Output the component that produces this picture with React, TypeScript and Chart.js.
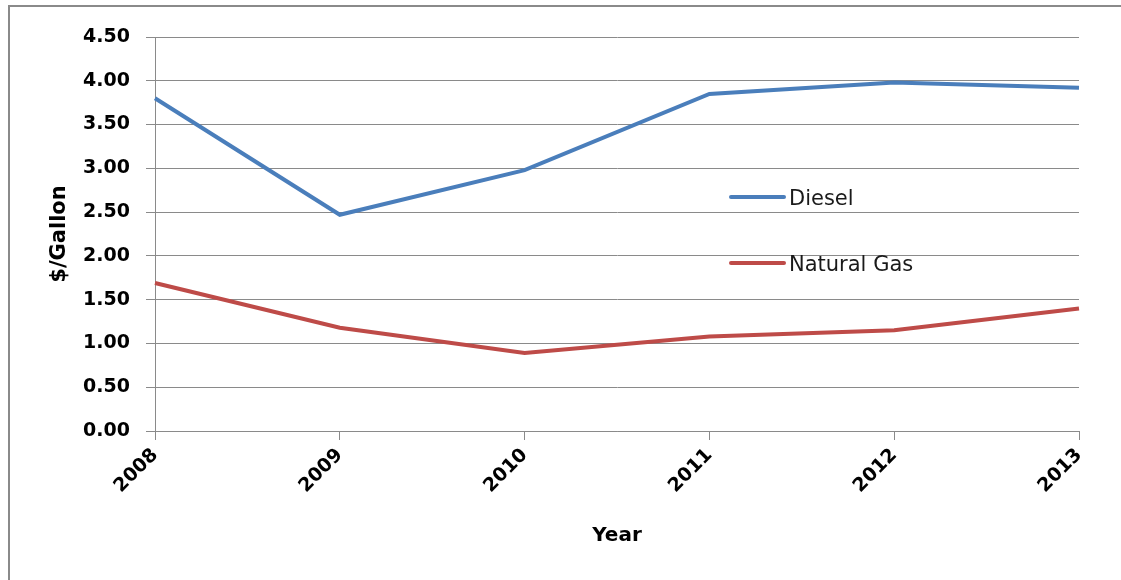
import React, { useEffect, useRef } from "react";
import { Chart, registerables } from "chart.js";

Chart.register(...registerables);

const years = ["2008", "2009", "2010", "2011", "2012", "2013"];
const diesel = [3.8, 2.47, 2.98, 3.85, 3.98, 3.92];
const naturalGas = [1.69, 1.18, 0.89, 1.08, 1.15, 1.4];
const seriesNames = ["Diesel", "Natural Gas"];
const seriesColors = ["#4A7EBB", "#BE4B48"];
const yAxisTitle = "$/Gallon";
const xAxisTitle = "Year";

const W = 1121;
const H = 580;

const framePlugin = {
  id: "frame",
  beforeDraw(chart: any) {
    const ctx = chart.ctx;
    ctx.save();
    ctx.fillStyle = "#ffffff";
    ctx.fillRect(0, 0, chart.width, chart.height);
    ctx.strokeStyle = "#8a8a8a";
    ctx.lineWidth = 2;
    ctx.beginPath();
    ctx.moveTo(9, chart.height);
    ctx.lineTo(9, 6);
    ctx.lineTo(chart.width, 6);
    ctx.stroke();
    ctx.restore();
  },
};

const legendPlugin = {
  id: "innerLegend",
  afterDatasetsDraw(chart: any) {
    const ctx = chart.ctx;
    const rows = [197, 263];
    ctx.save();
    chart.data.datasets.forEach((ds: any, i: number) => {
      const y = rows[i];
      ctx.strokeStyle = ds.borderColor;
      ctx.lineWidth = 4;
      ctx.lineCap = "round";
      ctx.beginPath();
      ctx.moveTo(731, y);
      ctx.lineTo(784, y);
      ctx.stroke();
      ctx.fillStyle = "#1a1a1a";
      ctx.font = "21px 'DejaVu Sans'";
      ctx.textAlign = "left";
      ctx.textBaseline = "alphabetic";
      ctx.fillText(ds.label, 789, y + 8);
    });
    ctx.restore();
  },
};

export default function App() {
  const ref = useRef<HTMLCanvasElement | null>(null);

  useEffect(() => {
    if (!ref.current) return;
    const chart = new Chart(ref.current, {
      type: "line",
      data: {
        labels: years,
        datasets: [
          {
            label: seriesNames[0],
            data: diesel,
            borderColor: seriesColors[0],
            backgroundColor: seriesColors[0],
            borderWidth: 4,
            pointRadius: 0,
            tension: 0,
          },
          {
            label: seriesNames[1],
            data: naturalGas,
            borderColor: seriesColors[1],
            backgroundColor: seriesColors[1],
            borderWidth: 4,
            pointRadius: 0,
            tension: 0,
          },
        ],
      },
      options: {
        responsive: false,
        animation: false,
        devicePixelRatio: 1,
        layout: { padding: { left: 47, top: 37, right: 42, bottom: 32 } },
        plugins: {
          legend: { display: false },
          tooltip: { enabled: false },
        },
        scales: {
          x: {
            offset: false,
            afterFit(scale: any) {
              scale.height = 117;
            },
            grid: {
              drawOnChartArea: false,
              drawTicks: true,
              tickLength: 9,
              color: "#8a8a8a",
            },
            border: { color: "#8a8a8a", width: 1 },
            ticks: {
              minRotation: 45,
              maxRotation: 45,
              autoSkip: false,
              padding: 4,
              color: "#000000",
              font: { family: "'DejaVu Sans'", size: 19, weight: "bold" },
            },
            title: {
              display: true,
              text: xAxisTitle,
              color: "#000000",
              padding: { top: 0, bottom: 0 },
              font: { family: "'DejaVu Sans'", size: 20, weight: "bold" },
            },
          },
          y: {
            min: 0,
            max: 4.5,
            afterFit(scale: any) {
              scale.width = 108;
            },
            grid: {
              drawOnChartArea: true,
              drawTicks: true,
              tickLength: 9,
              color: "#8a8a8a",
            },
            border: { color: "#8a8a8a", width: 1 },
            ticks: {
              stepSize: 0.5,
              padding: 16,
              color: "#000000",
              font: { family: "'DejaVu Sans'", size: 19, weight: "bold" },
              callback: (v: any) => Number(v).toFixed(2),
            },
            title: {
              display: true,
              text: yAxisTitle,
              color: "#000000",
              padding: { top: 0, bottom: 0 },
              font: { family: "'DejaVu Sans'", size: 21, weight: "bold" },
            },
          },
        },
      },
      plugins: [framePlugin, legendPlugin],
    });
    return () => chart.destroy();
  }, []);

  return (
    <div style={{ position: "fixed", left: 0, top: 0, width: W, height: H }}>
      <canvas ref={ref} width={W} height={H} style={{ display: "block", width: W, height: H }} />
    </div>
  );
}
